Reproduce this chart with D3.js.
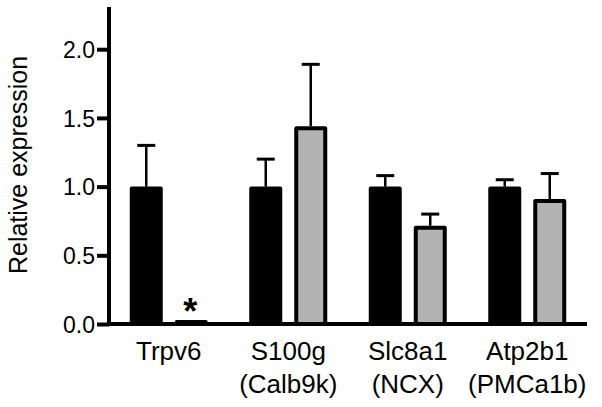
<!DOCTYPE html>
<html><head><meta charset="utf-8">
<script src="https://cdn.jsdelivr.net/npm/d3@7"></script>
<style>body{margin:0;background:#fff}svg{display:block}text{font-family:"Liberation Sans",Arial,sans-serif}</style>
</head><body>
<svg id="c" width="602" height="407"></svg>
<script>
const categories = ["Trpv6", "S100g", "Slc8a1", "Atp2b1"];
const subLabels = ["", "(Calb9k)", "(NCX)", "(PMCa1b)"];
const series = ["control", "treated"];
const controlMean = [1.0, 1.0, 1.0, 1.0];
const controlErr = [0.30, 0.20, 0.08, 0.05];
const treatedMean = [0.03, 1.44, 0.715, 0.91];
const treatedErr = [0.0, 0.45, 0.085, 0.185];
const significance = ["*", "", "", ""];
const yTicks = [0, 0.5, 1.0, 1.5, 2.0];
const colors = {control: "#000000", treated: "#b3b3b3"};

const svg = d3.select("#c");
const plotLeft = 109, plotRight = 587, plotTop = 8, plotBase = 324;
const y = d3.scaleLinear().domain([0, 2.3]).range([plotBase, plotTop]);
const x0 = d3.scaleBand().domain(categories).range([plotLeft, plotRight]).padding(0);
const groupW = 78;
const x1 = d3.scaleBand().domain(series).range([0, groupW]).paddingInner(12/45).paddingOuter(0);

const rows = [];
categories.forEach((c, i) => {
  rows.push({cat: c, s: "control", v: controlMean[i], e: controlErr[i], sig: ""});
  rows.push({cat: c, s: "treated", v: treatedMean[i], e: treatedErr[i], sig: significance[i]});
});
const bx = d => x0(d.cat) + (x0.bandwidth() - groupW) / 2 + x1(d.s);
const sw = 4;

// error bars
const eg = svg.append("g");
rows.filter(d => d.e > 0).forEach(d => {
  const cx = bx(d) + x1.bandwidth() / 2;
  eg.append("line").attr("x1", cx).attr("x2", cx).attr("y1", y(d.v)).attr("y2", y(d.v + d.e))
    .attr("stroke", "#000").attr("stroke-width", 2.5);
  eg.append("line").attr("x1", cx - 9).attr("x2", cx + 9).attr("y1", y(d.v + d.e)).attr("y2", y(d.v + d.e))
    .attr("stroke", "#000").attr("stroke-width", 3);
});

// bars
svg.append("g").selectAll("rect").data(rows).join("rect")
  .attr("x", d => bx(d) + sw / 2)
  .attr("width", x1.bandwidth() - sw)
  .attr("y", d => y(d.v) + sw / 2)
  .attr("height", d => Math.max(0, plotBase - y(d.v) - sw / 2))
  .attr("fill", d => colors[d.s])
  .attr("stroke", "#000").attr("stroke-width", sw).attr("stroke-linejoin", "round");

// significance
svg.append("g").selectAll("text").data(rows.filter(d => d.sig)).join("text")
  .attr("x", d => bx(d) + x1.bandwidth() / 2 - 1)
  .attr("y", d => y(d.v + d.e) + 4)
  .attr("text-anchor", "middle").attr("font-size", 36).attr("font-weight", "bold")
  .text(d => d.sig);

// y axis
const ya = svg.append("g").attr("transform", `translate(${plotLeft},0)`)
  .call(d3.axisLeft(y).tickValues(yTicks).tickFormat(d3.format(".1f")).tickSize(12).tickPadding(2));
ya.select(".domain").attr("d", `M0,${plotTop - 1}V${plotBase + 2}`).attr("stroke-width", 4).attr("stroke", "#000");
ya.selectAll(".tick line").attr("stroke-width", 4).attr("stroke", "#000");
ya.selectAll(".tick text").attr("font-size", 23).attr("fill", "#000").attr("font-family", "Liberation Sans, Arial, sans-serif").attr("dy", "0.36em");

// x axis
const xa = svg.append("g").attr("transform", `translate(0,${plotBase})`)
  .call(d3.axisBottom(x0).tickSize(0).tickFormat(""));
xa.select(".domain").attr("d", `M${plotLeft - 2},0H${plotRight}`).attr("stroke-width", 4).attr("stroke", "#000");
xa.selectAll(".tick").each(function(d, i) {
  const t = d3.select(this).select("text").attr("font-size", 26).attr("fill", "#000")
    .attr("font-family", "Liberation Sans, Arial, sans-serif").attr("dy", null).attr("y", 36);
  t.append("tspan").attr("x", 0).text(categories[i]);
  if (subLabels[i]) t.append("tspan").attr("x", 0).attr("y", 69).text(subLabels[i]);
});

// y title
svg.append("text").attr("transform", `translate(27,165) rotate(-90)`)
  .attr("text-anchor", "middle").attr("font-size", 25).text("Relative expression");
</script>
</body></html>
